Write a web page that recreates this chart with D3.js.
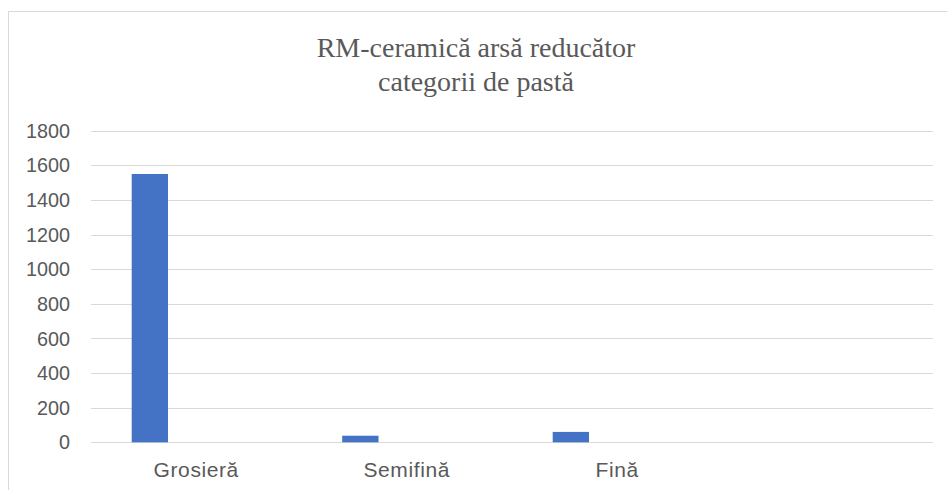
<!DOCTYPE html>
<html>
<head>
<meta charset="utf-8">
<script src="https://cdn.jsdelivr.net/npm/d3@7"></script>
<style>
  body { margin: 0; background: #fff; }
  svg { display: block; }
</style>
</head>
<body>
<svg id="chart"></svg>
<script>
var titleLines = ["RM-ceramică arsă reducător", "categorii de pastă"];
var categories = ["Grosieră", "Semifină", "Fină", ""];
var series = ["Seria 1", "Seria 2", "Seria 3", "Seria 4"];
var values = [1550, 38, 60, null];
var yTicks = [0, 200, 400, 600, 800, 1000, 1200, 1400, 1600, 1800];

var width = 947, height = 490;
var margin = { top: 130.7, right: 14, bottom: 47.7, left: 91 };

var svg = d3.select("#chart")
    .attr("width", width)
    .attr("height", height);

// chart frame
svg.append("rect")
    .attr("x", 8.5).attr("y", 11.5)
    .attr("width", 960).attr("height", 500)
    .attr("fill", "#fff")
    .attr("stroke", "#d9d9d9")
    .attr("stroke-width", 1);

var x0 = d3.scaleBand()
    .domain(d3.range(categories.length))
    .range([margin.left, width - margin.right])
    .padding(0);

var x1 = d3.scaleBand()
    .domain(series)
    .range([0, x0.bandwidth()])
    .paddingInner(0)
    .paddingOuter(0.9)
    .align(0.623);

var y = d3.scaleLinear()
    .domain([0, 1800])
    .range([height - margin.bottom, margin.top]);

// gridlines
svg.append("g")
    .selectAll("line")
    .data(yTicks)
    .enter()
    .append("line")
    .attr("x1", margin.left)
    .attr("x2", width - margin.right)
    .attr("y1", function(d) { return Math.round(y(d)) + 0.5; })
    .attr("y2", function(d) { return Math.round(y(d)) + 0.5; })
    .attr("stroke", "#d9d9d9")
    .attr("stroke-width", 1.2);

// y labels
svg.append("g")
    .selectAll("text")
    .data(yTicks)
    .enter()
    .append("text")
    .attr("x", 70)
    .attr("y", function(d) { return y(d); })
    .attr("dy", "0.36em")
    .attr("text-anchor", "end")
    .attr("font-family", "Liberation Sans, Arial, sans-serif")
    .attr("font-size", 19.8)
    .attr("fill", "#595959")
    .text(function(d) { return d; });

// bars (only first series has data)
svg.append("g")
    .selectAll("rect")
    .data(values)
    .enter()
    .filter(function(d) { return d != null; })
    .append("rect")
    .attr("x", function(d, i) { return x0(values.indexOf(d)) + x1(series[0]); })
    .attr("width", x1.bandwidth())
    .attr("y", function(d) { return y(d); })
    .attr("height", function(d) { return y(0) - y(d); })
    .attr("fill", "#4472c4");

// category labels
svg.append("g")
    .selectAll("text")
    .data(categories)
    .enter()
    .append("text")
    .attr("x", function(d, i) { return x0(i) + x0.bandwidth() / 2; })
    .attr("y", 476.5)
    .attr("text-anchor", "middle")
    .attr("font-family", "Liberation Sans, Arial, sans-serif")
    .attr("font-size", 21)
    .attr("letter-spacing", 0.6)
    .attr("fill", "#595959")
    .text(function(d) { return d; });

// title
svg.append("g")
    .selectAll("text")
    .data(titleLines)
    .enter()
    .append("text")
    .attr("x", 476)
    .attr("y", function(d, i) { return 57 + i * 34; })
    .attr("text-anchor", "middle")
    .attr("font-family", "Liberation Serif, Times New Roman, serif")
    .attr("font-size", 28)
    .attr("fill", "#595959")
    .text(function(d) { return d; });
</script>
</body>
</html>
